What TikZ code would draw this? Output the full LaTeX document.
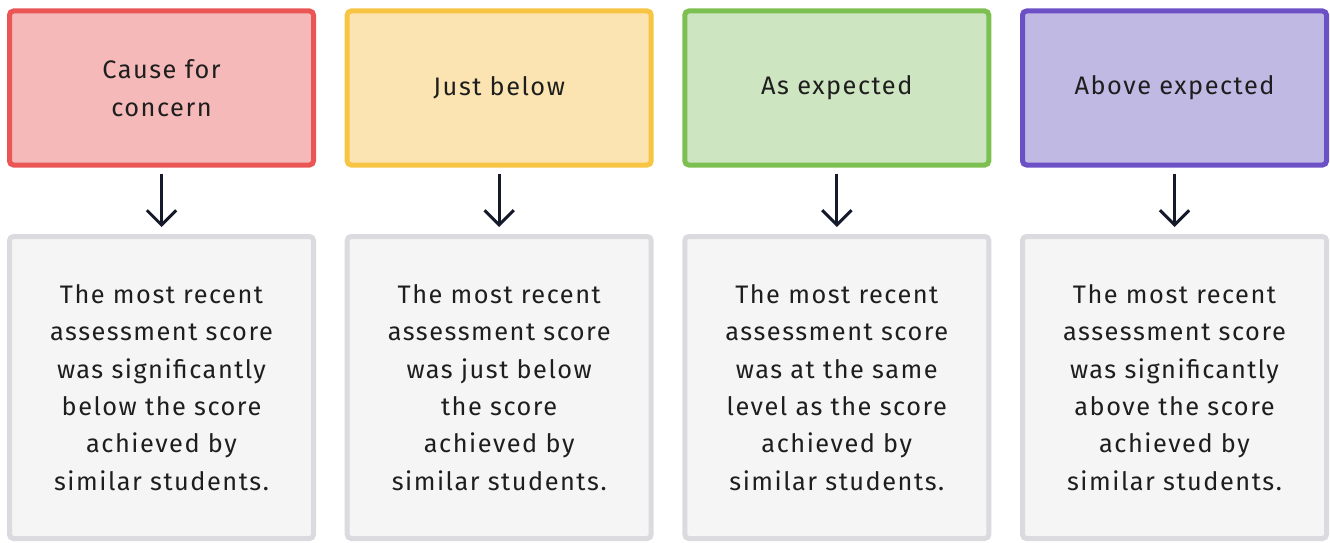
\documentclass[tikz,border=0pt]{standalone}
\usepackage{fontspec}
\setmainfont{Fira Sans}
\newfontfamily\bandfont{Fira Sans}[LetterSpace=6]
\usetikzlibrary{arrows.meta,positioning}
\definecolor{concernline}{HTML}{EA5656}
\definecolor{concernfill}{HTML}{F5B9B9}
\definecolor{belowline}{HTML}{F7C444}
\definecolor{belowfill}{HTML}{FBE4B1}
\definecolor{expectline}{HTML}{7DC052}
\definecolor{expectfill}{HTML}{CEE5C1}
\definecolor{aboveline}{HTML}{6C50C5}
\definecolor{abovefill}{HTML}{C0B9E4}
\definecolor{noteline}{HTML}{DADADF}
\definecolor{notefill}{HTML}{F5F5F5}
\definecolor{inktext}{HTML}{1E1E1E}
\definecolor{inkarrow}{HTML}{141A2A}

\begin{document}
\begin{tikzpicture}[x=0.75pt,y=-0.75pt,
	  bandbox/.style={draw=#1line, fill=#1fill, line width=3.75pt,
	    rounded corners=3pt, minimum width=228pt, minimum height=115.5pt,
	    align=center, text=inktext, font=\bandfont\fontsize{19}{28}\selectfont},
	  notebox/.style={draw=noteline, fill=notefill, line width=3.75pt,
	    rounded corners=3pt, minimum width=228pt, minimum height=226.5pt,
	    align=center, text=inktext, font=\bandfont\fontsize{19}{28}\selectfont},
	  down/.style={draw=inkarrow, line width=2.25pt,
	    -{Straight Barb[length=11pt,width=22pt,line width=2.25pt]},
	    shorten <=4.5pt, shorten >=5.25pt}]
	  \useasboundingbox (0,0) rectangle (1330,542);
	  % top row
	  \node[bandbox=concern] (concern) at (161.5,88) {Cause for\\concern};
	  \node[bandbox=below] (below) at (499.2,88) {Just below};
	  \node[bandbox=expect] (expect) at (836.8,88) {As expected};
	  \node[bandbox=above] (above) at (1174.5,88) {Above expected};
	  % bottom row
	  \node[notebox] (concernnote) at (161.5,387.5)
	    {The most recent\\assessment score\\was significantly\\below the score\\achieved by\\similar students.};
	  \node[notebox] (belownote) at (499.2,387.5)
	    {The most recent\\assessment score\\was just below\\the score\\achieved by\\similar students.};
	  \node[notebox] (expectnote) at (836.8,387.5)
	    {The most recent\\assessment score\\was at the same\\level as the score\\achieved by\\similar students.};
	  \node[notebox] (abovenote) at (1174.5,387.5)
	    {The most recent\\assessment score\\was significantly\\above the score\\achieved by\\similar students.};
	  \foreach \band in {concern,below,expect,above}
	    \draw[down] (\band) -- (\band note);
	\end{tikzpicture}
\end{document}
